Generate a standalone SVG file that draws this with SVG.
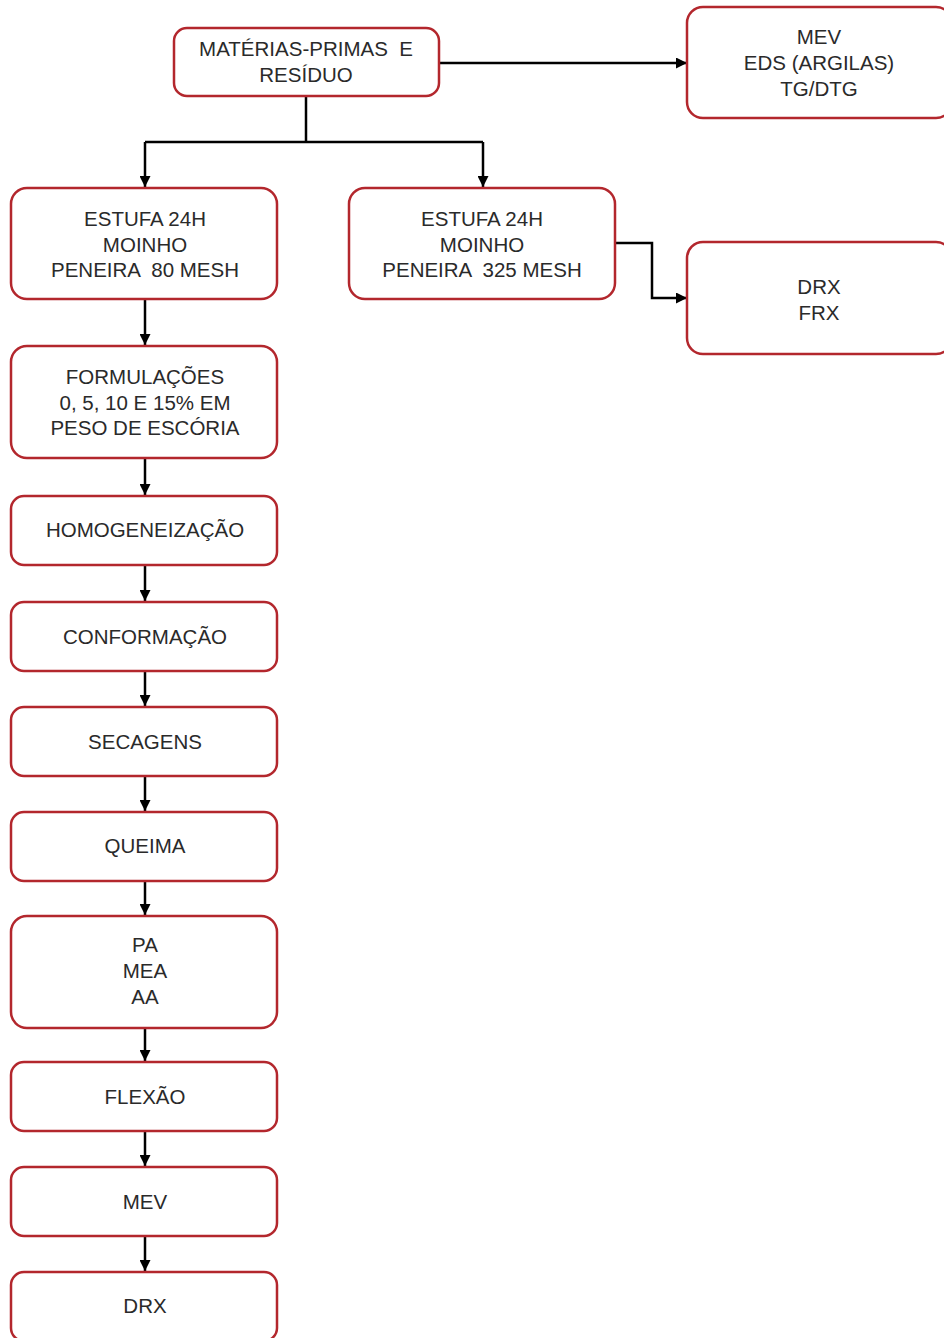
<svg xmlns="http://www.w3.org/2000/svg" width="944" height="1338" viewBox="0 0 944 1338">
<defs>
<marker id="ah" viewBox="0 0 10 10" refX="10" refY="5" markerWidth="11" markerHeight="11" markerUnits="userSpaceOnUse" orient="auto">
<path d="M0,0 L10,5 L0,10 z" fill="#000"/>
</marker>
</defs>
<style>
.box{fill:#fff;stroke:#b3272d;stroke-width:2.5}
.t{font-family:"Liberation Sans",Arial,sans-serif;font-size:20.5px;fill:#2a2a2a;text-anchor:middle}
.c{fill:none;stroke:#000;stroke-width:2.5}
</style>
<rect width="944" height="1338" fill="#fff"/>
<g id="connectors">
<path class="c" d="M439,63 H687" marker-end="url(#ah)"/>
<path class="c" d="M306,96 V142"/>
<path class="c" d="M145,142 H483"/>
<path class="c" d="M145,142 V187" marker-end="url(#ah)"/>
<path class="c" d="M483,142 V187" marker-end="url(#ah)"/>
<path class="c" d="M615,243 H652 V298 H687" marker-end="url(#ah)"/>
<path class="c" d="M145,299 V345" marker-end="url(#ah)"/>
<path class="c" d="M145,458 V495" marker-end="url(#ah)"/>
<path class="c" d="M145,565 V601" marker-end="url(#ah)"/>
<path class="c" d="M145,671 V706" marker-end="url(#ah)"/>
<path class="c" d="M145,776 V811" marker-end="url(#ah)"/>
<path class="c" d="M145,881 V915" marker-end="url(#ah)"/>
<path class="c" d="M145,1028 V1061" marker-end="url(#ah)"/>
<path class="c" d="M145,1131 V1166" marker-end="url(#ah)"/>
<path class="c" d="M145,1236 V1271" marker-end="url(#ah)"/>
</g>
<g id="n-materias">
<rect class="box" x="174" y="28" width="265" height="68" rx="13"/>
<text class="t" x="306" y="56" xml:space="preserve">MATÉRIAS-PRIMAS  E</text>
<text class="t" x="306" y="82">RESÍDUO</text>
</g>
<g id="n-mev-top">
<rect class="box" x="687" y="7" width="265" height="111" rx="16"/>
<text class="t" x="819" y="44">MEV</text>
<text class="t" x="819" y="70">EDS (ARGILAS)</text>
<text class="t" x="819" y="96">TG/DTG</text>
</g>
<g id="n-estufa80">
<rect class="box" x="11" y="188" width="266" height="111" rx="16"/>
<text class="t" x="145" y="226">ESTUFA 24H</text>
<text class="t" x="145" y="252">MOINHO</text>
<text class="t" x="145" y="277" xml:space="preserve">PENEIRA  80 MESH</text>
</g>
<g id="n-estufa325">
<rect class="box" x="349" y="188" width="266" height="111" rx="16"/>
<text class="t" x="482" y="226">ESTUFA 24H</text>
<text class="t" x="482" y="252">MOINHO</text>
<text class="t" x="482" y="277" xml:space="preserve">PENEIRA  325 MESH</text>
</g>
<g id="n-drxfrx">
<rect class="box" x="687" y="242" width="265" height="112" rx="16"/>
<text class="t" x="819" y="294">DRX</text>
<text class="t" x="819" y="320">FRX</text>
</g>
<g id="n-formulacoes">
<rect class="box" x="11" y="346" width="266" height="112" rx="16"/>
<text class="t" x="145" y="384">FORMULAÇÕES</text>
<text class="t" x="145" y="410">0, 5, 10 E 15% EM</text>
<text class="t" x="145" y="435">PESO DE ESCÓRIA</text>
</g>
<g id="n-homog">
<rect class="box" x="11" y="496" width="266" height="69" rx="13"/>
<text class="t" x="145" y="537">HOMOGENEIZAÇÃO</text>
</g>
<g id="n-conform">
<rect class="box" x="11" y="602" width="266" height="69" rx="13"/>
<text class="t" x="145" y="644">CONFORMAÇÃO</text>
</g>
<g id="n-secagens">
<rect class="box" x="11" y="707" width="266" height="69" rx="13"/>
<text class="t" x="145" y="749">SECAGENS</text>
</g>
<g id="n-queima">
<rect class="box" x="11" y="812" width="266" height="69" rx="13"/>
<text class="t" x="145" y="853">QUEIMA</text>
</g>
<g id="n-pa">
<rect class="box" x="11" y="916" width="266" height="112" rx="16"/>
<text class="t" x="145" y="952">PA</text>
<text class="t" x="145" y="978">MEA</text>
<text class="t" x="145" y="1004">AA</text>
</g>
<g id="n-flexao">
<rect class="box" x="11" y="1062" width="266" height="69" rx="13"/>
<text class="t" x="145" y="1104">FLEXÃO</text>
</g>
<g id="n-mev">
<rect class="box" x="11" y="1167" width="266" height="69" rx="13"/>
<text class="t" x="145" y="1209">MEV</text>
</g>
<g id="n-drx">
<rect class="box" x="11" y="1272" width="266" height="69" rx="13"/>
<text class="t" x="145" y="1313">DRX</text>
</g>
</svg>
